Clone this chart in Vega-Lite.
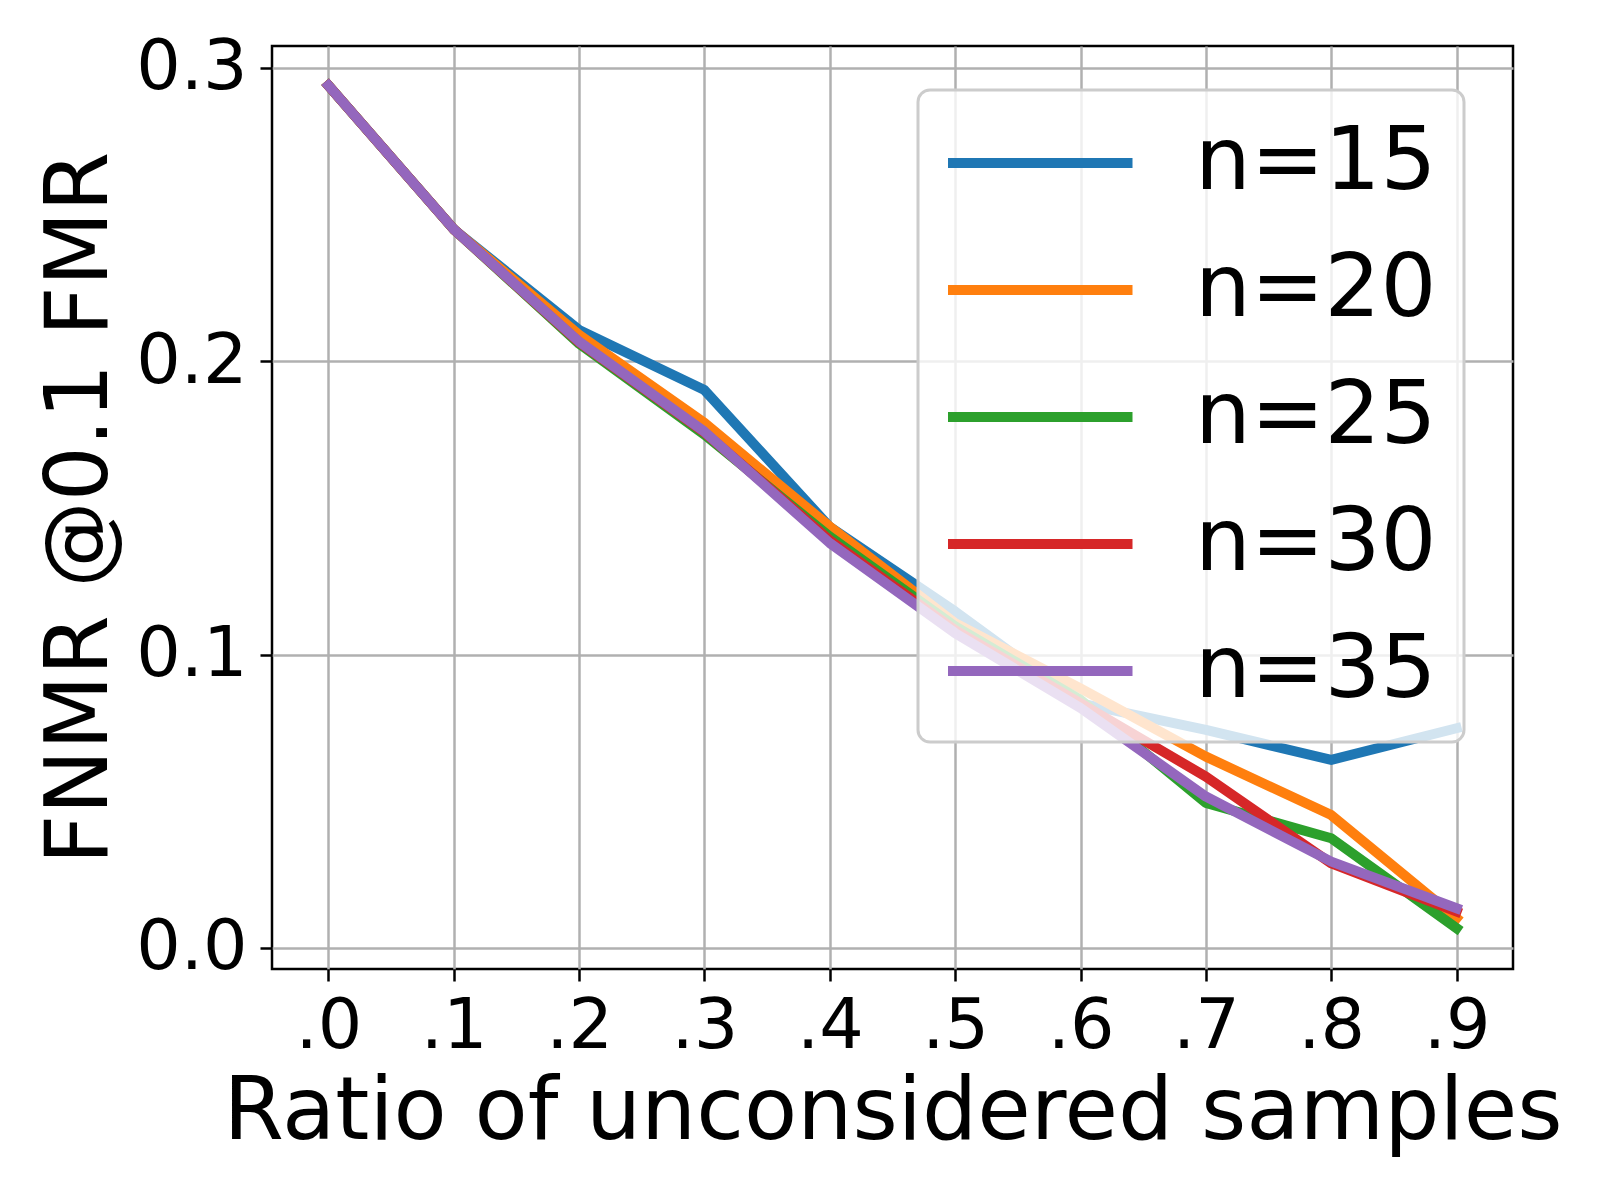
{
  "$schema": "https://vega.github.io/schema/vega-lite/v6.json",
  "width": 1241,
  "height": 923,
  "autosize": {"type": "none"},
  "padding": {"left": 272, "top": 46, "right": 87, "bottom": 231},
  "background": "white",
  "config": {
    "font": "DejaVu Sans",
    "view": {"stroke": "black", "strokeWidth": 2.5},
    "axis": {
      "domain": false,
      "grid": true,
      "gridColor": "#b0b0b0",
      "gridWidth": 2.5,
      "tickColor": "black",
      "tickWidth": 2.5,
      "tickSize": 12,
      "labelFontSize": 70,
      "labelColor": "black",
      "labelFont": "DejaVu Sans",
      "titleFont": "DejaVu Sans",
      "titleFontSize": 87,
      "titleFontWeight": "normal",
      "titleColor": "black"
    },
    "legend": {
      "labelFont": "DejaVu Sans",
      "fillColor": "rgba(255,255,255,0.8)",
      "strokeColor": "#cccccc",
      "strokeWidth": 3,
      "cornerRadius": 12,
      "padding": 27
    }
  },
  "data": {
    "values": [
      {"r": 0.0, "v": 0.294, "n": "n=15"},
      {"r": 0.1, "v": 0.245, "n": "n=15"},
      {"r": 0.2, "v": 0.2107, "n": "n=15"},
      {"r": 0.3, "v": 0.1902, "n": "n=15"},
      {"r": 0.4, "v": 0.1435, "n": "n=15"},
      {"r": 0.5, "v": 0.1147, "n": "n=15"},
      {"r": 0.6, "v": 0.0834, "n": "n=15"},
      {"r": 0.7, "v": 0.0743, "n": "n=15"},
      {"r": 0.8, "v": 0.0641, "n": "n=15"},
      {"r": 0.9, "v": 0.0749, "n": "n=15"},
      {"r": 0.0, "v": 0.294, "n": "n=20"},
      {"r": 0.1, "v": 0.245, "n": "n=20"},
      {"r": 0.2, "v": 0.209, "n": "n=20"},
      {"r": 0.3, "v": 0.179, "n": "n=20"},
      {"r": 0.4, "v": 0.1436, "n": "n=20"},
      {"r": 0.5, "v": 0.1107, "n": "n=20"},
      {"r": 0.6, "v": 0.0885, "n": "n=20"},
      {"r": 0.7, "v": 0.0652, "n": "n=20"},
      {"r": 0.8, "v": 0.0453, "n": "n=20"},
      {"r": 0.9, "v": 0.0101, "n": "n=20"},
      {"r": 0.0, "v": 0.294, "n": "n=25"},
      {"r": 0.1, "v": 0.245, "n": "n=25"},
      {"r": 0.2, "v": 0.206, "n": "n=25"},
      {"r": 0.3, "v": 0.175, "n": "n=25"},
      {"r": 0.4, "v": 0.1402, "n": "n=25"},
      {"r": 0.5, "v": 0.1096, "n": "n=25"},
      {"r": 0.6, "v": 0.0846, "n": "n=25"},
      {"r": 0.7, "v": 0.0494, "n": "n=25"},
      {"r": 0.8, "v": 0.0374, "n": "n=25"},
      {"r": 0.9, "v": 0.0067, "n": "n=25"},
      {"r": 0.0, "v": 0.294, "n": "n=30"},
      {"r": 0.1, "v": 0.245, "n": "n=30"},
      {"r": 0.2, "v": 0.2065, "n": "n=30"},
      {"r": 0.3, "v": 0.1757, "n": "n=30"},
      {"r": 0.4, "v": 0.139, "n": "n=30"},
      {"r": 0.5, "v": 0.1084, "n": "n=30"},
      {"r": 0.6, "v": 0.0834, "n": "n=30"},
      {"r": 0.7, "v": 0.0584, "n": "n=30"},
      {"r": 0.8, "v": 0.0288, "n": "n=30"},
      {"r": 0.9, "v": 0.0124, "n": "n=30"},
      {"r": 0.0, "v": 0.294, "n": "n=35"},
      {"r": 0.1, "v": 0.245, "n": "n=35"},
      {"r": 0.2, "v": 0.2067, "n": "n=35"},
      {"r": 0.3, "v": 0.176, "n": "n=35"},
      {"r": 0.4, "v": 0.138, "n": "n=35"},
      {"r": 0.5, "v": 0.1073, "n": "n=35"},
      {"r": 0.6, "v": 0.0818, "n": "n=35"},
      {"r": 0.7, "v": 0.0516, "n": "n=35"},
      {"r": 0.8, "v": 0.0294, "n": "n=35"},
      {"r": 0.9, "v": 0.0135, "n": "n=35"}
    ]
  },
  "mark": {"type": "line", "strokeWidth": 10, "strokeCap": "square", "strokeJoin": "round"},
  "encoding": {
    "x": {
      "field": "r",
      "type": "quantitative",
      "scale": {"domain": [-0.045, 0.945], "nice": false, "zero": false},
      "axis": {
        "values": [0, 0.1, 0.2, 0.3, 0.4, 0.5, 0.6, 0.7, 0.8, 0.9],
        "labelExpr": "substring(format(datum.value, '.1f'), 1)",
        "labelPadding": 11,
        "title": "Ratio of unconsidered samples",
        "titlePadding": 8
      }
    },
    "y": {
      "field": "v",
      "type": "quantitative",
      "scale": {"domain": [-0.0072, 0.3075], "nice": false, "zero": false},
      "axis": {
        "values": [0, 0.1, 0.2, 0.3],
        "format": ".1f",
        "labelPadding": 13,
        "title": "FNMR @0.1 FMR",
        "titleFontSize": 86.5,
        "titlePadding": 11
      }
    },
    "color": {
      "field": "n",
      "type": "nominal",
      "sort": ["n=15", "n=20", "n=25", "n=30", "n=35"],
      "scale": {
        "domain": ["n=15", "n=20", "n=25", "n=30", "n=35"],
        "range": ["#1f77b4", "#ff7f0e", "#2ca02c", "#d62728", "#9467bd"]
      },
      "legend": {
        "title": null,
        "orient": "none",
        "legendX": 646,
        "legendY": 44,
        "symbolType": "M-1,0H3.5",
        "symbolSize": 6724,
        "symbolStrokeWidth": 10,
        "symbolOffset": -2,
        "labelFontSize": 88,
        "labelColor": "black",
        "labelLimit": 500,
        "labelOffset": 160,
        "rowPadding": 37
      }
    }
  }
}
